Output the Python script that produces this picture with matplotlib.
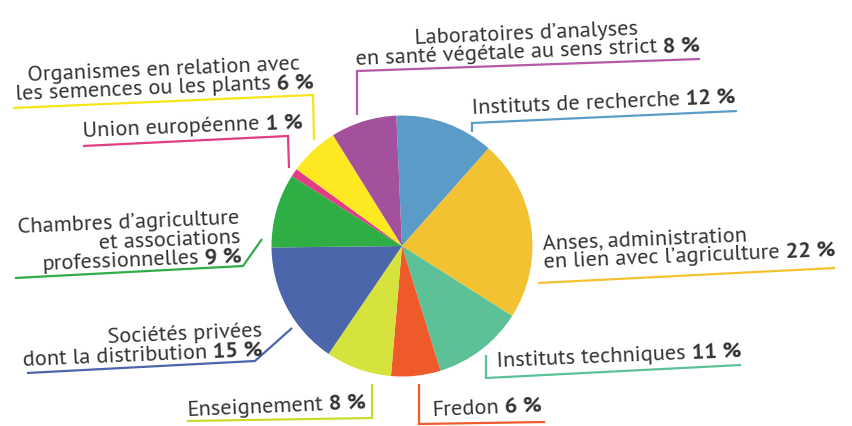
import matplotlib
matplotlib.use("Agg")
import matplotlib.pyplot as plt
import numpy as np

# slices, clockwise from the top
categories = [
    ["Instituts de recherche"],
    ["Anses, administration", "en lien avec l’agriculture"],
    ["Instituts techniques"],
    ["Fredon"],
    ["Enseignement"],
    ["Sociétés privées", "dont la distribution"],
    ["Chambres d’agriculture", "et associations", "professionnelles"],
    ["Union européenne"],
    ["Organismes en relation avec", "les semences ou les plants"],
    ["Laboratoires d’analyses", "en santé végétale au sens strict"],
]
values = [12, 22, 11, 6, 8, 15, 9, 1, 6, 8]
colors = ["#5b9bc8", "#f3c232", "#5cc197", "#ef5a2a", "#d5e33c",
          "#4c66ab", "#2fae46", "#e23d82", "#fde921", "#a3519d"]
line_colors = ["#5b9bc8", "#f3c232", "#5cc197", "#ef5a2a", "#c9dc2a",
               "#4c66ab", "#2fae46", "#e23d82", "#f7e51c", "#b45aa8"]

W, H = 853, 426
ANGLE = 2.4          # the scan is slightly tilted
FONT = ["PT Sans", "Fira Sans", "Lato", "DejaVu Sans"]
LEAD = 19
TXT = "#333333"

# label anchor (pixels from top-left), alignment, leader polyline
layout = [
    (472, 114, "left",   [(472, 132), (472, 123), (737, 111)]),
    (543, 249, "left",   [(538, 283), (835, 268)]),
    (497, 367, "left",   [(486, 355), (486, 378), (741, 365)]),
    (432, 416, "left",   [(419, 384), (419, 424), (545, 422)]),
    (187, 416, "left",   [(372, 384), (372, 418), (187, 421)]),
    (262, 337, "right",  [(292, 328), (255, 361), (27, 373)]),
    (240, 224, "right",  [(262, 239), (243, 266), (15, 278)]),
    (83, 137, "left",    [(289, 168), (288, 136), (83, 146)]),
    (164, 75, "center",  [(314, 140), (313, 95), (13, 108)]),
    (527, 39, "center",  [(357, 115), (357, 71), (700, 59)]),
]

fig = plt.figure(figsize=(W / 100, H / 100), dpi=100)
ax = fig.add_axes([0, 0, 1, 1])
ax.pie(values, colors=colors, startangle=92.5, counterclock=False,
       center=(402, H - 246), radius=130.5, wedgeprops=dict(linewidth=0))
ax.set_xlim(0, W)
ax.set_ylim(0, H)
ax.set_aspect("equal")
ax.axis("off")

renderer = fig.canvas.get_renderer()


def text_width(s, bold=False, size=10):
    t = ax.text(0, 0, s, fontsize=size, family=FONT,
                fontweight="bold" if bold else "normal")
    w = t.get_window_extent(renderer).width
    t.remove()
    return w


# pick the size so that "Instituts de recherche 12 %" is as wide as in the scan
w10 = (text_width("Instituts de recherche") + text_width("12 %", True)
       + text_width("x x") - text_width("xx"))
SIZE = 10 * 265 / w10
SPACE = text_width("x x", size=SIZE) - text_width("xx", size=SIZE)


def draw_label(x, y, lines, ha):
    a = np.deg2rad(ANGLE)
    u = np.array([np.cos(a), np.sin(a)])
    d = np.array([np.sin(a), -np.cos(a)])
    base = np.array([x, H - y], dtype=float)
    for k, parts in enumerate(lines):
        ws = [text_width(s, b, SIZE) for s, b in parts]
        total = sum(ws) + SPACE * (len(parts) - 1)
        p = base + k * LEAD * d
        if ha == "center":
            p = p - total / 2 * u
        elif ha == "right":
            p = p - total * u
        for (s, b), w in zip(parts, ws):
            ax.text(p[0], p[1], s, fontsize=SIZE, family=FONT, color=TXT,
                    fontweight="bold" if b else "normal",
                    rotation=ANGLE, rotation_mode="anchor",
                    ha="left", va="baseline")
            p = p + (w + SPACE) * u


for name, v, lc, (x, y, ha, pts) in zip(categories, values, line_colors, layout):
    lines = [[(s, False)] for s in name]
    lines[-1].append((f"{v} %", True))
    draw_label(x, y, lines, ha)
    xs = [p[0] for p in pts]
    ys = [H - p[1] for p in pts]
    ax.plot(xs, ys, color=lc, lw=1.6, solid_joinstyle="miter",
            solid_capstyle="butt")

fig.savefig("out.png", dpi=100)
